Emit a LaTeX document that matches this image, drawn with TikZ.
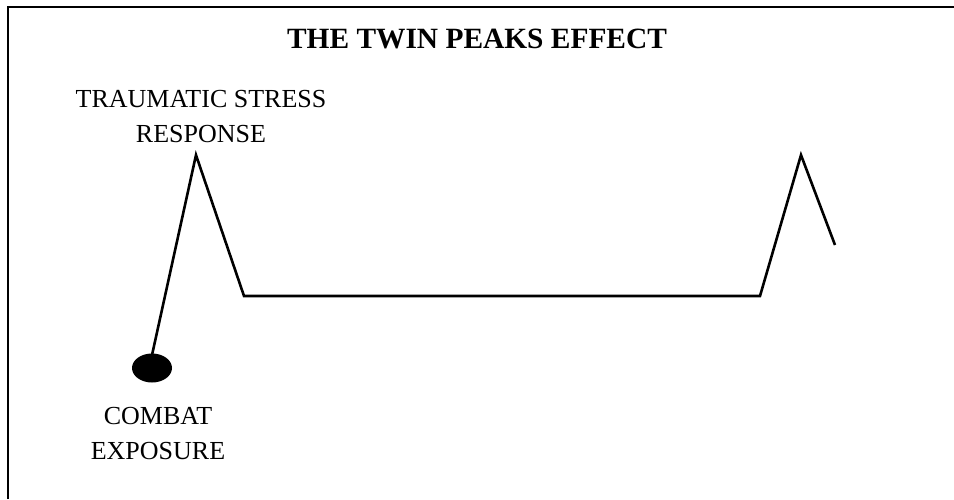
\documentclass[tikz,border=0pt]{standalone}
\usepackage{fontspec}
\setmainfont{Liberation Serif}
\usetikzlibrary{shapes.geometric}
\begin{document}
\begin{tikzpicture}[x=0.5pt,y=-0.5pt]
	% Styles du graphique
	\tikzset{
		courbe/.style={line width=1.3pt, line join=miter},
		etiquette/.style={align=center, inner sep=0pt, font=\fontsize{13}{17.5}\selectfont},
		titre/.style={inner sep=0pt, font=\fontsize{14.7}{18}\selectfont\bfseries},
		point/.style={ellipse, fill=black, inner sep=0pt, minimum width=20pt, minimum height=14.5pt}
	}
	\useasboundingbox (0,0) rectangle (954,499);
	% Cadre (ouvert à droite et en bas)
	\draw[line width=1pt] (8,499) -- (8,7) -- (954,7);
	\node[titre, anchor=north] (titre) at (477,29) {THE TWIN PEAKS EFFECT};
	% Points de la courbe
	\node[point] (combat) at (152,368) {};
	\coordinate (pic1) at (196,155);
	\coordinate (creux1) at (244,296);
	\coordinate (creux2) at (760,296);
	\coordinate (pic2) at (801,155);
	\coordinate (fin) at (835,245);
	\draw[courbe] ([yshift=-1pt]combat.north) -- (pic1) -- (creux1) -- (creux2) -- (pic2) -- (fin);
	% Étiquettes
	\node[etiquette, anchor=north] (stress) at (201,90) {TRAUMATIC STRESS\\RESPONSE};
	\node[etiquette, anchor=north] (exposition) at (158,407) {COMBAT\\EXPOSURE};
\end{tikzpicture}
\end{document}
